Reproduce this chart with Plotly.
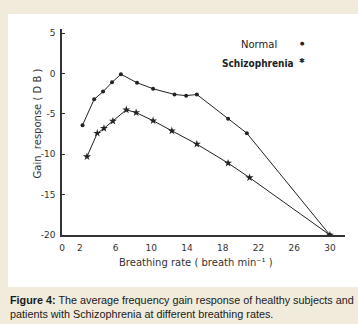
import plotly.graph_objects as go

# Data
normal_x = [2.3, 3.6, 4.6, 5.6, 6.6, 8.4, 10.2, 12.6, 13.9, 15.1, 18.6, 20.7, 30.0]
normal_y = [-6.4, -3.2, -2.25, -1.1, -0.1, -1.15, -1.9, -2.6, -2.75, -2.6, -5.6, -7.4, -20.0]
schizo_x = [2.8, 3.95, 4.7, 5.7, 7.2, 8.3, 10.2, 12.3, 15.1, 18.6, 21.0, 30.0]
schizo_y = [-10.3, -7.4, -6.8, -5.9, -4.5, -4.85, -5.85, -7.1, -8.75, -11.1, -12.9, -20.0]
x_ticks = [0, 2, 6, 10, 14, 18, 22, 26, 30]
y_ticks = [5, 0, -5, -10, -15, -20]

BEIGE = "#f0ebdb"
INK = "#222222"
AXFONT = dict(family="DejaVu Sans", size=9, color="#333333")

fig = go.Figure()
fig.add_trace(go.Scatter(x=normal_x, y=normal_y, mode="lines+markers", name="Normal",
                         line=dict(color=INK, width=1),
                         marker=dict(symbol="circle", size=4, color=INK)))
fig.add_trace(go.Scatter(x=schizo_x, y=schizo_y, mode="lines+markers", name="Schizophrenia",
                         line=dict(color=INK, width=1),
                         marker=dict(symbol="star", size=6, color=INK)))

# plot area: x 62..345 px, y 29..235 px
L, R, T, B = 62, 345, 29, 235
W, H = R - L, B - T
def px(x):
    return (x - L) / W
def py(y):
    return (B - y) / H

fig.update_layout(
    width=358, height=324,
    margin=dict(l=L, r=358 - R, t=T, b=324 - B),
    paper_bgcolor=BEIGE, plot_bgcolor="white",
    showlegend=False,
    xaxis=dict(range=[0, (R - L) / 8.93], tickvals=x_ticks, ticktext=[str(t) for t in x_ticks],
               showgrid=False, zeroline=False, showline=True, linecolor="#333", linewidth=1.5,
               ticks="", tickfont=AXFONT, ticklabelstandoff=3),
    yaxis=dict(range=[-20, 5.5], tickvals=y_ticks, ticktext=[str(t) for t in y_ticks],
               showgrid=False, zeroline=False, showline=True, linecolor="#333", linewidth=1.5,
               ticks="inside", ticklen=3, tickcolor="#333", tickfont=AXFONT, ticklabelstandoff=3),
    shapes=[dict(type="rect", xref="paper", yref="paper", layer="below",
                 x0=px(8), x1=px(358), y0=py(287), y1=py(14),
                 fillcolor="white", line=dict(width=0))],
    annotations=[
        dict(text="Gain  response ( D B )", textangle=-90, xref="paper", yref="paper",
             x=px(29), y=py(124), showarrow=False, font=dict(family="DejaVu Sans", size=10, color="#333")),
        dict(text="Breathing rate ( breath min⁻¹ )", xref="paper", yref="paper",
             x=px(196), y=py(270), showarrow=False, font=dict(family="DejaVu Sans", size=10, color="#333")),
        dict(text="Normal", xref="paper", yref="paper", x=px(279), y=py(37), xanchor="right",
             showarrow=False, font=dict(family="DejaVu Sans", size=10, color="#222")),
        dict(text="●", xref="paper", yref="paper", x=px(307), y=py(38),
             showarrow=False, font=dict(family="DejaVu Sans", size=5, color="#222")),
        dict(text="<b>Schizophrenia</b>", xref="paper", yref="paper", x=px(296), y=py(56), xanchor="right",
             showarrow=False, font=dict(family="DejaVu Sans Condensed", size=10, color="#222")),
        dict(text="✱", xref="paper", yref="paper", x=px(307), y=py(55),
             showarrow=False, font=dict(family="DejaVu Sans", size=7, color="#222")),
        dict(text="<b>Figure 4:</b> The average frequency gain response of healthy subjects and<br>"
                  "patients with Schizophrenia at different breathing rates.",
             xref="paper", yref="paper", x=px(8), y=py(292), xanchor="left", yanchor="top",
             align="left", showarrow=False,
             font=dict(family="Liberation Sans", size=10.8, color="#1a1a1a")),
    ],
)

fig.write_html("out.html")
